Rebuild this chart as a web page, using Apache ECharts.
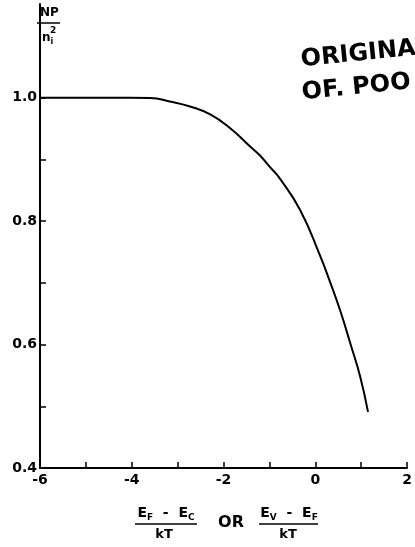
<!DOCTYPE html>
<html>
<head>
<meta charset="utf-8">
<script src="https://cdn.jsdelivr.net/npm/echarts@6/dist/echarts.min.js"></script>
<style>html,body{margin:0;padding:0;background:#fff}#c{width:415px;height:547px}</style>
</head>
<body>
<div id="c"></div>
<script>
// Data
var xValues = [-6, -5, -4.69, -4.04, -3.6, -3.17, -2.73, -2.29, -1.86, -1.42, -1.2, -0.99, -0.77, -0.33, 0.1, 0.32, 0.54, 0.76, 0.98, 1.15];
var yValues = [1.0, 1.0, 1.0, 1.0, 0.9995, 0.994, 0.986, 0.973, 0.951, 0.921, 0.906, 0.888, 0.869, 0.818, 0.745, 0.702, 0.656, 0.603, 0.548, 0.491];
var xTickLabels = [-6, -4, -2, 0, 2];
var xTicks = [-5, -4, -3, -2, -1, 0, 1, 2];
var yTickLabels = [0.4, 0.6, 0.8, 1.0];
var yTicks = [0.5, 0.6, 0.7, 0.8, 0.9, 1.0];

var FONT = '"DejaVu Sans", "Liberation Sans", Arial, sans-serif';
var pts = xValues.map(function (x, i) { return [x, yValues[i]]; });

var chart = echarts.init(document.getElementById('c'), null, {renderer: 'canvas'});
chart.setOption({
  animation: false,
  backgroundColor: '#fff',
  grid: {left: 40, right: 8, top: 4, bottom: 79, containLabel: false},
  xAxis: {
    type: 'value', min: -6, max: 2, interval: 2,
    splitLine: {show: false},
    axisLine: {onZero: false, lineStyle: {color: '#000', width: 2}},
    axisTick: {inside: true, length: 6, customValues: xTicks, lineStyle: {color: '#000', width: 1.5}},
    axisLabel: {customValues: xTickLabels, color: '#000', fontWeight: 'bold', fontSize: 14, fontFamily: FONT, margin: 5,
      formatter: function (v) { return String(v); }}
  },
  yAxis: {
    type: 'value', min: 0.4, max: 1.152,
    splitLine: {show: false},
    axisLine: {onZero: false, lineStyle: {color: '#000', width: 2}},
    axisTick: {inside: true, length: 6, customValues: yTicks, lineStyle: {color: '#000', width: 1.5}},
    axisLabel: {customValues: yTickLabels, color: '#000', fontWeight: 'bold', fontSize: 14, fontFamily: FONT, margin: 3,
      formatter: function (v) { return v.toFixed(1); }}
  },
  series: [{
    type: 'line', data: pts, showSymbol: false, smooth: 0.5,
    lineStyle: {color: '#000', width: 2}
  }],
  graphic: [
    {type: 'text', left: 40, top: 7, style: {text: 'NP', font: 'bold 12px ' + FONT, fill: '#000'}},
    {type: 'line', shape: {x1: 37, y1: 23, x2: 60, y2: 23}, style: {stroke: '#000', lineWidth: 1.5}},
    {type: 'text', left: 42, top: 32, style: {text: '{n|n}{s|i}', rich: {n: {font: 'bold 12px ' + FONT, fill: '#000'}, s: {font: 'bold 8px ' + FONT, fill: '#000', padding: [8, 0, 0, 0]}}}},
    {type: 'text', left: 50, top: 26, style: {text: '2', font: 'bold 9px ' + FONT, fill: '#000'}},
    {type: 'text', x: 301, y: 60, rotation: 0.1, style: {text: 'ORIGINA', font: 'bold 24px ' + FONT, fill: '#000', verticalAlign: 'middle'}},
    {type: 'text', x: 302, y: 93, rotation: 0.1, style: {text: 'OF. POO', font: 'bold 24px ' + FONT, fill: '#000', verticalAlign: 'middle'}},
    {type: 'text', x: 166, y: 513, style: {text: '{e|E}{s|F}{e|  -  E}{s|C}', align: 'center', verticalAlign: 'middle', rich: {e: {font: 'bold 14px ' + FONT, fill: '#000'}, s: {font: 'bold 9px ' + FONT, fill: '#000', padding: [9, 0, 0, 0]}}}},
    {type: 'line', shape: {x1: 135, y1: 524, x2: 197, y2: 524}, style: {stroke: '#000', lineWidth: 1.5}},
    {type: 'text', x: 164, y: 535, style: {text: 'kT', font: 'bold 13px ' + FONT, fill: '#000', align: 'center', verticalAlign: 'middle'}},
    {type: 'text', x: 231, y: 523, style: {text: 'OR', font: 'bold 16px ' + FONT, fill: '#000', align: 'center', verticalAlign: 'middle'}},
    {type: 'text', x: 289, y: 513, style: {text: '{e|E}{s|V}{e|  -  E}{s|F}', align: 'center', verticalAlign: 'middle', rich: {e: {font: 'bold 14px ' + FONT, fill: '#000'}, s: {font: 'bold 9px ' + FONT, fill: '#000', padding: [9, 0, 0, 0]}}}},
    {type: 'line', shape: {x1: 259, y1: 524, x2: 318, y2: 524}, style: {stroke: '#000', lineWidth: 1.5}},
    {type: 'text', x: 288, y: 535, style: {text: 'kT', font: 'bold 13px ' + FONT, fill: '#000', align: 'center', verticalAlign: 'middle'}}
  ]
});
</script>
</body>
</html>
